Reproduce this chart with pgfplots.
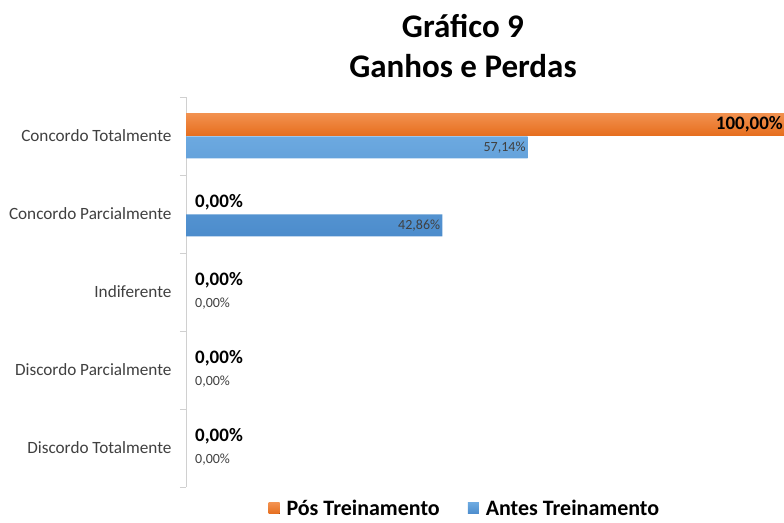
\documentclass[border=0pt]{standalone}
\usepackage{pgfplots}
\pgfplotsset{compat=1.18}
\usepackage{fontspec}
\setmainfont{Carlito}
\definecolor{orangeT}{HTML}{F2914F}
\definecolor{orangeB}{HTML}{E66E1E}
\definecolor{blueT}{HTML}{6CA9E0}
\definecolor{blueB}{HTML}{4C8CCC}
\definecolor{txt}{HTML}{404040}
\definecolor{axgray}{HTML}{D0D0D0}
\begin{document}
\begin{tikzpicture}[x=1pt,y=1pt]
\begin{axis}[
  at={(186pt,35pt)}, anchor=south west,
  scale only axis, width=598pt, height=390pt,
  xmin=0, xmax=100, ymin=-0.5, ymax=4.5,
  xbar, bar width=22pt,
  axis x line=none,
  axis y line*=left,
  axis line style={axgray, line width=0.8pt},
  ytick={0,1,2,3,4},
  yticklabels={Discordo Totalmente, Discordo Parcialmente, Indiferente, Concordo Parcialmente, Concordo Totalmente},
  major tick length=0pt,
  minor ytick={-0.5,0.5,1.5,2.5,3.5,4.5},
  minor tick length=6pt,
  tick align=outside,
  minor tick style={axgray, line width=0.8pt},
  yticklabel style={font=\fontsize{17.2}{19}\selectfont, text=txt, xshift=-11pt},
  clip=false,
  legend style={at={(0.468,-0.055)}, anchor=center, draw=none, fill=none,
    legend columns=2, font=\bfseries\fontsize{22}{24}\selectfont,
    nodes={inner ysep=0.5pt, inner xsep=4pt},
    /tikz/every odd column/.append style={column sep=3pt},
    /tikz/every even column/.append style={column sep=24pt}},
  legend image code/.code={\fill[#1] (0pt,-5.5pt) rectangle (11pt,5.5pt);},
]
% Pos Treinamento (orange)
\addplot[xbar, bar shift=11.5pt, draw=none, top color=orangeT, bottom color=orangeB,
  point meta=explicit symbolic, nodes near coords,
  every node near coord/.append style={anchor=east, inner sep=1pt, font=\bfseries\fontsize{19}{22}\selectfont, text=black}]
  coordinates {(100,4) [100,00\%]};
\addlegendentry{Pós Treinamento}
\addplot[xbar, bar shift=11.5pt, draw=none, fill=none, forget plot,
  point meta=explicit symbolic, nodes near coords,
  every node near coord/.append style={anchor=west, inner sep=0pt, xshift=9pt, font=\bfseries\fontsize{19}{22}\selectfont, text=black}]
  coordinates {(0,3) [0,00\%] (0,2) [0,00\%] (0,1) [0,00\%] (0,0) [0,00\%]};
% Antes Treinamento (blue)
\addplot[xbar, bar shift=-11.5pt, draw=none, top color=blueT, bottom color=blueB,
  point meta=explicit symbolic, nodes near coords,
  every node near coord/.append style={anchor=east, inner sep=2pt, font=\fontsize{14}{16}\selectfont, text=txt}]
  coordinates {(57.14,4) [57,14\%] (42.86,3) [42,86\%]};
\addlegendentry{Antes Treinamento}
\addplot[xbar, bar shift=-11.5pt, draw=none, fill=none, forget plot,
  point meta=explicit symbolic, nodes near coords,
  every node near coord/.append style={anchor=west, inner sep=0pt, xshift=9pt, font=\fontsize{14}{16}\selectfont, text=txt}]
  coordinates {(0,2) [0,00\%] (0,1) [0,00\%] (0,0) [0,00\%]};
\end{axis}
\node[align=center, font=\bfseries\fontsize{33}{40}\selectfont, text=black] at (463pt,476pt) {Gráfico 9\\Ganhos e Perdas};
\pgfresetboundingbox
\path[use as bounding box] (0,0) rectangle (784pt,522pt);
\end{tikzpicture}
\end{document}
